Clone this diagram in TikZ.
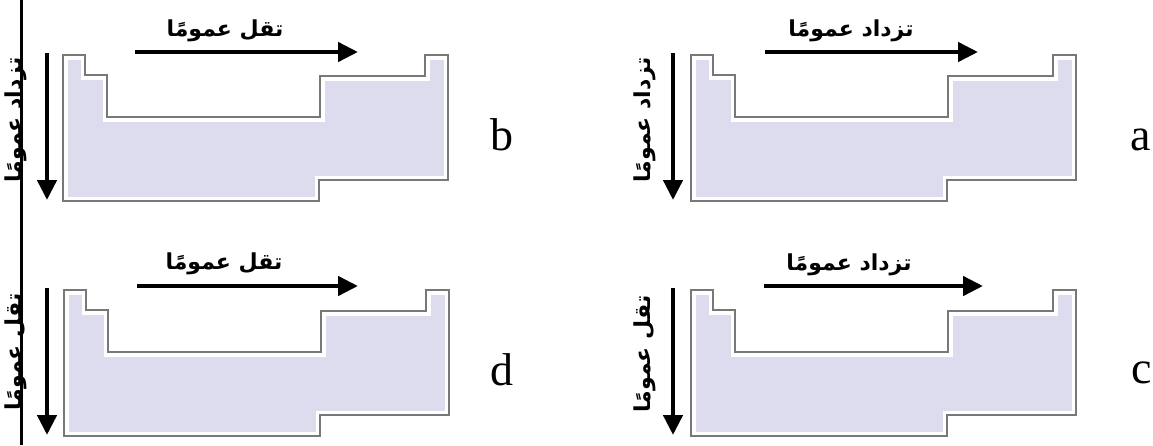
\documentclass[tikz,border=0pt]{standalone}
\usepackage{fontspec}
\usepackage{graphicx}
\setmainfont{Liberation Serif}
\newfontfamily\arabicfont[Script=Arabic]{DejaVu Sans}
\TeXXeTstate=1
\usetikzlibrary{arrows.meta}

\definecolor{tablefill}{RGB}{220,220,238}
\definecolor{tableline}{RGB}{120,120,120}

% outline of the periodic table (block layout), top-left corner at the origin
\newcommand{\ptshape}{(0,0) -- (22,0) -- (22,20) -- (44,20) -- (44,62) -- (257,62)
  -- (257,21) -- (362,21) -- (362,0) -- (385,0) -- (385,125) -- (256,125)
  -- (256,146) -- (0,146) -- cycle}
% Arabic trend phrases
\newcommand{\incr}{\beginR تزداد عمومًا\endR}
\newcommand{\decr}{\beginR تقل عمومًا\endR}

\tikzset{
  pics/ptable/.style={code={
    \path[fill=tablefill, draw=white, line width=9pt, line join=miter] \ptshape;
    \draw[tableline, line width=1.6pt, line join=miter] \ptshape;
  }},
  trend/.style={line width=4.5pt, -{Triangle[length=20pt,width=19pt]}},
  trendtext/.style={font=\arabicfont\bfseries\fontsize{22}{26}\selectfont, inner sep=0pt},
  letter/.style={font=\fontsize{46}{50}\selectfont, anchor=base, inner sep=0pt},
}

\begin{document}
\begin{tikzpicture}[x=1pt, y=-1pt]
\useasboundingbox[fill=white] (0,0) rectangle (1153,445);

% the four tables
\pic (tb) at (63,55) {ptable};
\pic (ta) at (691,55) {ptable};
\pic (td) at (64,290) {ptable};
\pic (tc) at (691,290) {ptable};

% arrow ends
\coordinate (bh0) at (135,52);  \coordinate (bh1) at (358,52);
\coordinate (bv0) at (47,53);   \coordinate (bv1) at (47,200);
\coordinate (ah0) at (765,52);  \coordinate (ah1) at (978,52);
\coordinate (av0) at (673,53);  \coordinate (av1) at (673,200);
\coordinate (dh0) at (137,286); \coordinate (dh1) at (358,286);
\coordinate (dv0) at (47,288);  \coordinate (dv1) at (47,435);
\coordinate (ch0) at (764,286); \coordinate (ch1) at (983,286);
\coordinate (cv0) at (673,288); \coordinate (cv1) at (673,435);

\draw[trend] (bh0) -- (bh1);
\draw[trend] (bv0) -- (bv1);
\draw[trend] (ah0) -- (ah1);
\draw[trend] (av0) -- (av1);
\draw[trend] (dh0) -- (dh1);
\draw[trend] (dv0) -- (dv1);
\draw[trend] (ch0) -- (ch1);
\draw[trend] (cv0) -- (cv1);

% trend labels
\node[trendtext] (btxt) at (225,31) {\decr};
\node[trendtext] (bvtxt) at (16,120) {\rotatebox{90}{\incr}};
\node[trendtext] (atxt) at (851,31) {\incr};
\node[trendtext] (avtxt) at (645,120) {\rotatebox{90}{\incr}};
\node[trendtext] (dtxt) at (224,264) {\decr};
\node[trendtext] (dvtxt) at (16,352) {\rotatebox{90}{\decr}};
\node[trendtext] (ctxt) at (849,265) {\incr};
\node[trendtext] (cvtxt) at (645,354) {\rotatebox{90}{\decr}};

% option letters
\node[letter] (la) at (1141,150) {a};
\node[letter] (lb) at (502,150) {b};
\node[letter] (lc) at (1142,383) {c};
\node[letter] (ld) at (502,385) {d};

% rule along the left edge
\coordinate (edgetop) at (21.5,0);
\coordinate (edgebot) at (21.5,445);
\draw[line width=2.5pt] (edgetop) -- (edgebot);
\end{tikzpicture}
\end{document}
